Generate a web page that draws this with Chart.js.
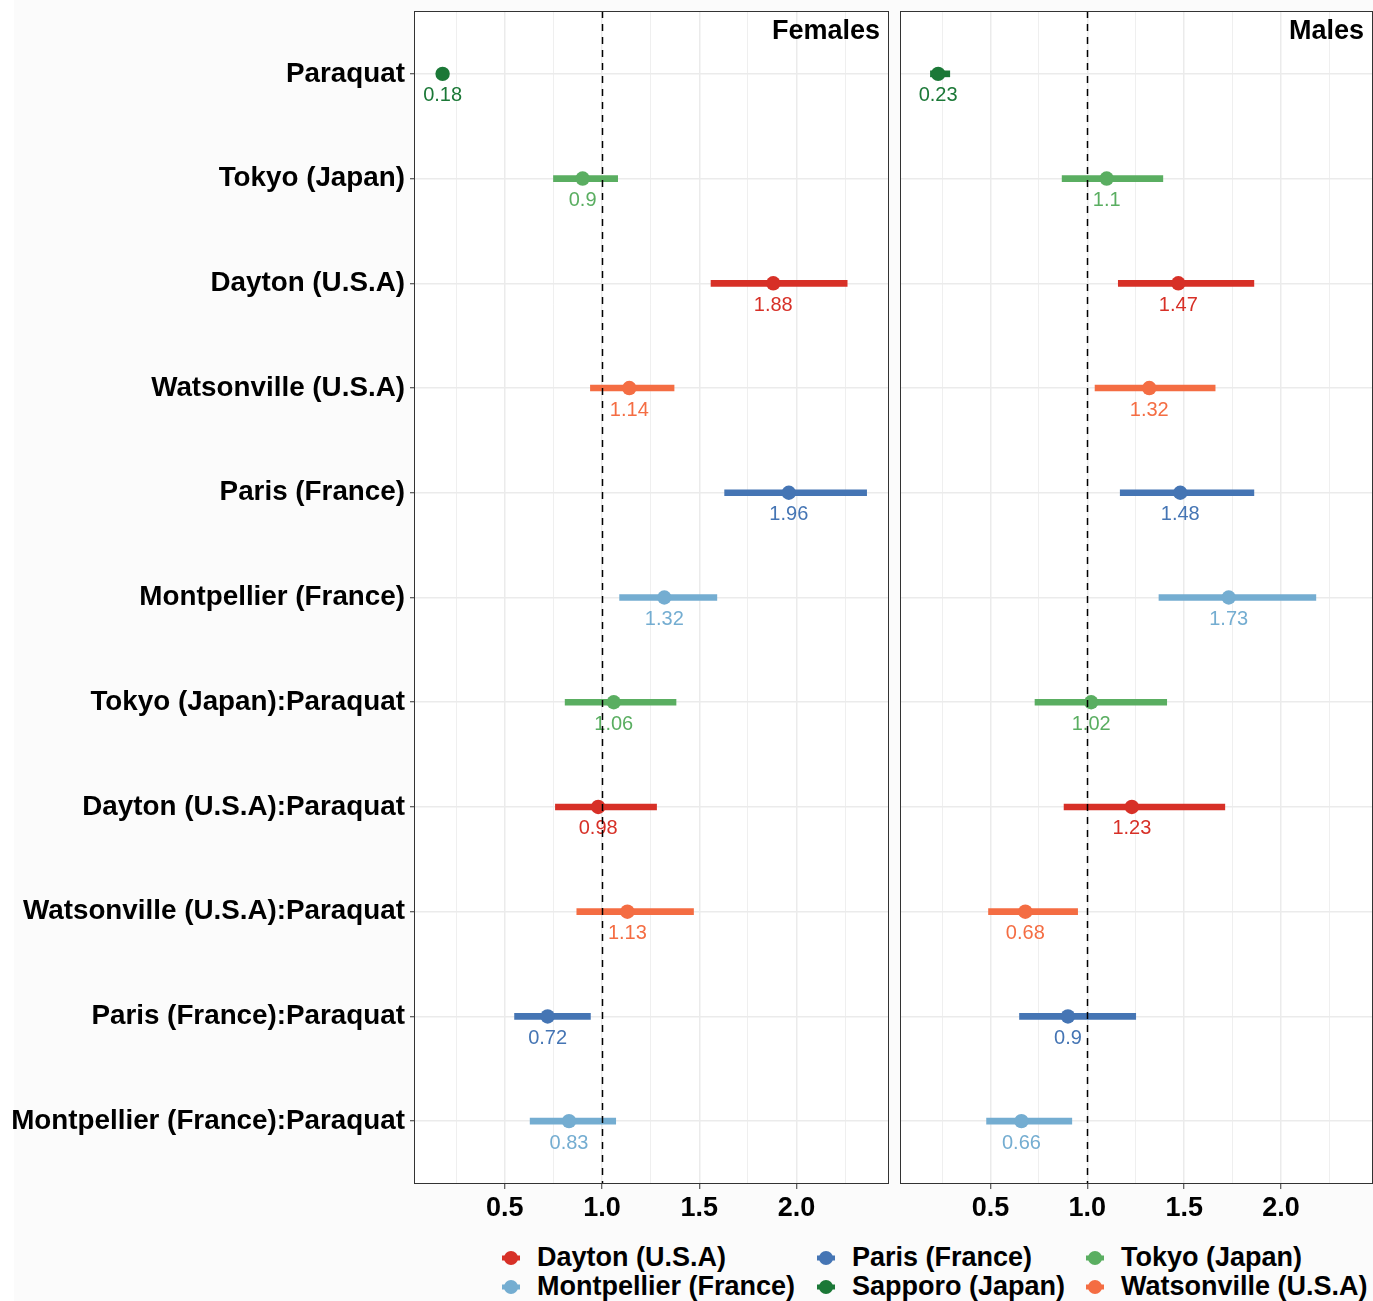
<!DOCTYPE html>
<html>
<head>
<meta charset="utf-8">
<script src="https://cdn.jsdelivr.net/npm/chart.js@4.4.0/dist/chart.umd.min.js"></script>
<style>
  body { margin: 0; background: #fbfbfb; font-family: "Liberation Sans", Arial, sans-serif; }
  #wrap { position: relative; width: 1373px; height: 1301px; }
  #strip { position: absolute; left: 0; top: 0; width: 14px; height: 1301px; background: #fff; }
  #females { position: absolute; left: 0; top: 0; }
  #males { position: absolute; left: 895px; top: 0; }
  #legend {
    position: absolute; left: 499px; top: 1243px;
    display: grid; grid-template-columns: 315px 269px auto; grid-auto-rows: 29px;
    font-weight: bold; font-size: 27px; color: #000;
  }
  .item { display: flex; align-items: center; white-space: nowrap; }
  .item svg { margin-right: 14px; }
</style>
</head>
<body>
<div id="wrap">
  <div id="strip"></div>
  <canvas id="females" width="895" height="1235"></canvas>
  <canvas id="males" width="478" height="1235"></canvas>
  <div id="legend"></div>
</div>
<script>
// rows, top to bottom
const rowLabels = ['Paraquat', 'Tokyo (Japan)', 'Dayton (U.S.A)', 'Watsonville (U.S.A)', 'Paris (France)',
  'Montpellier (France)', 'Tokyo (Japan):Paraquat', 'Dayton (U.S.A):Paraquat', 'Watsonville (U.S.A):Paraquat',
  'Paris (France):Paraquat', 'Montpellier (France):Paraquat'];
const rowSite = ['Sapporo (Japan)', 'Tokyo (Japan)', 'Dayton (U.S.A)', 'Watsonville (U.S.A)', 'Paris (France)',
  'Montpellier (France)', 'Tokyo (Japan)', 'Dayton (U.S.A)', 'Watsonville (U.S.A)', 'Paris (France)', 'Montpellier (France)'];

const femaleEst  = [0.18, 0.9, 1.88, 1.14, 1.96, 1.32, 1.06, 0.98, 1.13, 0.72, 0.83];
const femaleLow  = [0.16, 0.75, 1.56, 0.94, 1.63, 1.09, 0.81, 0.76, 0.87, 0.55, 0.63];
const femaleHigh = [0.20, 1.08, 2.26, 1.37, 2.36, 1.59, 1.38, 1.28, 1.47, 0.94, 1.07];

const maleEst  = [0.23, 1.1, 1.47, 1.32, 1.48, 1.73, 1.02, 1.23, 0.68, 0.9, 0.66];
const maleLow  = [0.19, 0.87, 1.16, 1.04, 1.17, 1.37, 0.73, 0.88, 0.49, 0.65, 0.48];
const maleHigh = [0.29, 1.39, 1.86, 1.66, 1.86, 2.18, 1.41, 1.71, 0.95, 1.25, 0.92];

const xTickValues = [0.25, 0.5, 0.75, 1.0, 1.25, 1.5, 1.75, 2.0, 2.25];
const legendSites = ['Dayton (U.S.A)', 'Paris (France)', 'Tokyo (Japan)',
  'Montpellier (France)', 'Sapporo (Japan)', 'Watsonville (U.S.A)'];

const siteColors = {
  'Dayton (U.S.A)': '#d73027',
  'Paris (France)': '#4575b4',
  'Tokyo (Japan)': '#5aae61',
  'Montpellier (France)': '#74add1',
  'Sapporo (Japan)': '#1b7837',
  'Watsonville (U.S.A)': '#f46d43'
};

const FONT = '"Liberation Sans", Arial, sans-serif';
const isMajor = v => Math.abs(v * 2 - Math.round(v * 2)) < 1e-6;
const rowColors = rowSite.map(s => siteColors[s]);

// panel background, border, strip title, reference line and value labels
const panelPlugin = {
  id: 'panel',
  beforeDraw(chart) {
    const { ctx, chartArea: a } = chart;
    ctx.save();
    ctx.fillStyle = '#fff';
    ctx.fillRect(a.left, a.top, a.right - a.left, a.bottom - a.top);
    ctx.restore();
  },
  afterDraw(chart, args, opts) {
    const { ctx, chartArea: a, scales } = chart;
    ctx.save();
    // value labels under points
    const meta = chart.getDatasetMeta(0);
    ctx.font = '20px ' + FONT;
    ctx.textAlign = 'center';
    ctx.textBaseline = 'middle';
    meta.data.forEach((pt, i) => {
      ctx.fillStyle = rowColors[i];
      ctx.fillText(String(opts.est[i]), pt.x, pt.y + 22);
    });
    // dashed line at 1
    const x1 = Math.round(scales.x.getPixelForValue(1)) + 0.5;
    ctx.strokeStyle = '#000';
    ctx.lineWidth = 1.5;
    ctx.setLineDash([7, 6]);
    ctx.beginPath();
    ctx.moveTo(x1, a.top);
    ctx.lineTo(x1, a.bottom);
    ctx.stroke();
    ctx.setLineDash([]);
    // border
    ctx.strokeStyle = '#333';
    ctx.lineWidth = 1;
    ctx.strokeRect(a.left + 0.5, a.top + 0.5, a.right - a.left - 1, a.bottom - a.top - 1);
    // strip title
    ctx.fillStyle = '#000';
    ctx.font = 'bold 27px ' + FONT;
    ctx.textAlign = 'right';
    ctx.fillText(opts.title, a.right - 9, a.top + 21);
    ctx.restore();
  }
};

function makePanel(id, title, est, low, high, showLabels) {
  const ctx = document.getElementById(id).getContext('2d');
  return new Chart(ctx, {
    type: 'scatter',
    data: {
      datasets: [
        {
          type: 'scatter',
          data: est.map((v, i) => ({ x: v, y: i })),
          pointRadius: 7.2,
          pointHoverRadius: 7.2,
          pointBackgroundColor: rowColors,
          pointBorderWidth: 0
        },
        {
          type: 'bar',
          indexAxis: 'y',
          data: low.map((v, i) => ({ x: [v, high[i]], y: i })),
          backgroundColor: rowColors,
          barThickness: 6,
          borderWidth: 0
        }
      ]
    },
    options: {
      responsive: false,
      animation: false,
      layout: { autoPadding: false, padding: { left: 0, top: 11, right: showLabels ? 6 : 0, bottom: 0 } },
      plugins: {
        legend: { display: false },
        tooltip: { enabled: false },
        panel: { title: title, est: est }
      },
      scales: {
        x: {
          type: 'linear',
          min: 0.033,
          max: 2.475,
          offset: false,
          afterBuildTicks: s => { s.ticks = xTickValues.map(v => ({ value: v })); },
          afterFit: s => { s.height = 51; s.paddingLeft = 0; s.paddingRight = 0; },
          border: { display: false },
          grid: {
            offset: false,
            color: '#ebebeb',
            lineWidth: c => isMajor(c.tick.value) ? 1.5 : 0.8,
            tickColor: c => isMajor(c.tick.value) ? '#333' : 'rgba(0,0,0,0)',
            tickLength: 5,
            tickWidth: 1
          },
          ticks: {
            autoSkip: false,
            maxRotation: 0,
            padding: 3,
            color: '#000',
            font: { family: FONT, size: 27, weight: 'bold' },
            callback: v => isMajor(v) ? v.toFixed(1) : ''
          }
        },
        y: {
          type: 'linear',
          min: -0.6,
          max: 10.6,
          reverse: true,
          offset: false,
          afterBuildTicks: s => { s.ticks = rowLabels.map((_, i) => ({ value: i })); },
          afterFit: s => { s.width = showLabels ? 414 : 5; s.paddingTop = 0; s.paddingBottom = 0; },
          border: { display: false },
          grid: {
            offset: false,
            color: '#ebebeb',
            lineWidth: 1.5,
            drawTicks: showLabels,
            tickColor: '#333',
            tickLength: 4,
            tickWidth: 1
          },
          ticks: {
            display: showLabels,
            autoSkip: false,
            padding: 5,
            color: '#000',
            font: { family: FONT, size: 27.8, weight: 'bold' },
            callback: v => rowLabels[v]
          }
        }
      }
    },
    plugins: [panelPlugin]
  });
}

makePanel('females', 'Females', femaleEst, femaleLow, femaleHigh, true);
makePanel('males', 'Males', maleEst, maleLow, maleHigh, false);

// legend
const legendEl = document.getElementById('legend');
legendSites.forEach(site => {
  const c = siteColors[site];
  const item = document.createElement('div');
  item.className = 'item';
  item.innerHTML = '<svg width="24" height="20"><line x1="3" x2="21" y1="10" y2="10" stroke="' + c +
    '" stroke-width="5"/><circle cx="12" cy="10" r="7" fill="' + c + '"/></svg>';
  const span = document.createElement('span');
  span.textContent = site;
  item.appendChild(span);
  legendEl.appendChild(item);
});
</script>
</body>
</html>
